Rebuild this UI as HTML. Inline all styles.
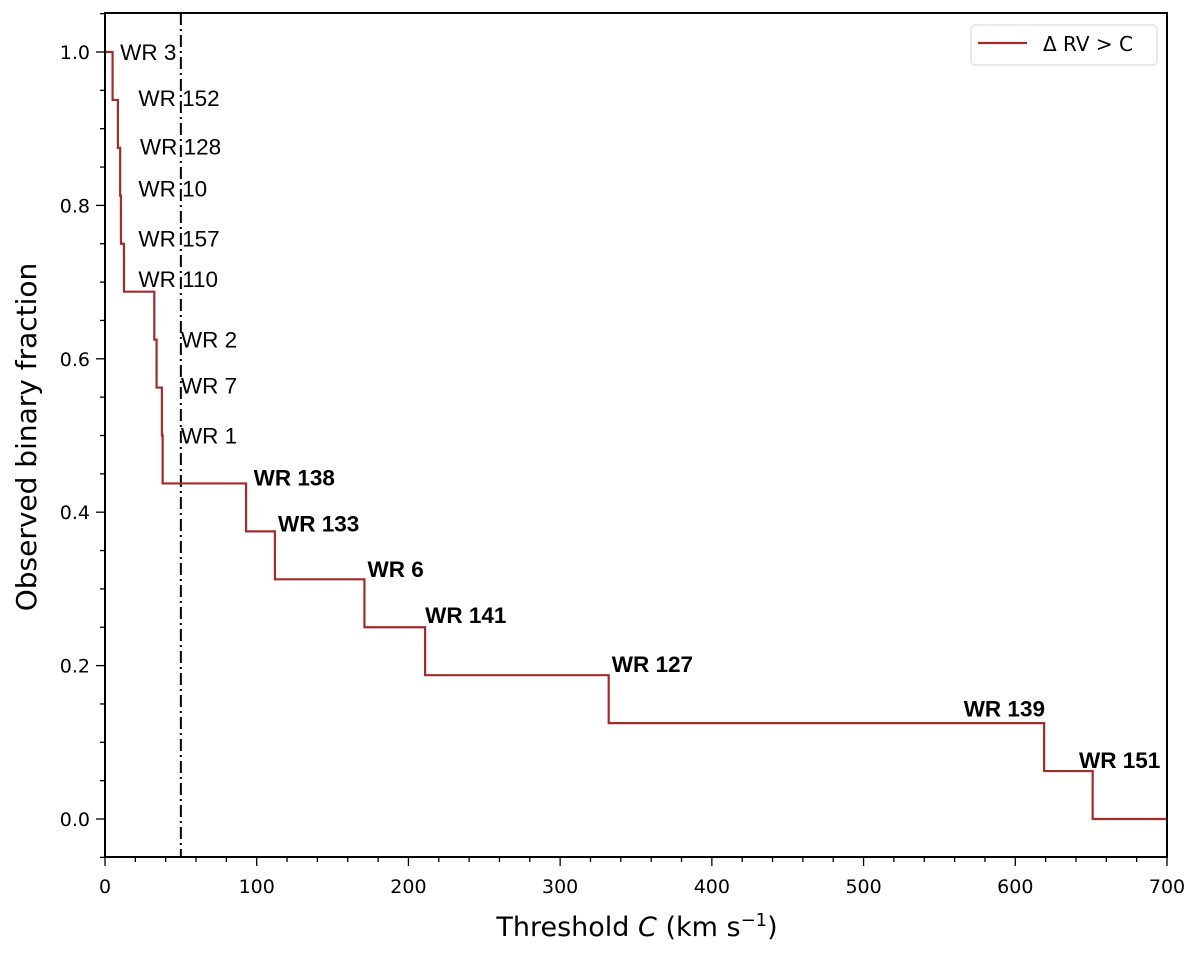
<!DOCTYPE html>
<html><head><meta charset="utf-8"><style>
body{margin:0;background:#fff;}
svg{display:block;font-family:"Liberation Sans","DejaVu Sans",sans-serif;}
.dv{font-family:"DejaVu Sans",sans-serif;}
</style></head><body>
<svg id="chart" width="1200" height="953"></svg>
<script>
const thresholds=[5,8.5,10,10.5,12.5,32.5,34,37.5,38,93,112,171,211,332,619,651];
const fractions=[1.0,0.9375,0.875,0.8125,0.75,0.6875,0.625,0.5625,0.5,0.4375,0.375,0.3125,0.25,0.1875,0.125,0.0625,0];
const xTicks=[0,100,200,300,400,500,600,700];
const yTicks=[0.0,0.2,0.4,0.6,0.8,1.0];
const labelNames=["WR 3","WR 152","WR 128","WR 10","WR 157","WR 110","WR 2","WR 7","WR 1","WR 138","WR 133","WR 6","WR 141","WR 127","WR 139","WR 151"];
const labelX=[10,22,23,22,22,22,50,50,50,98,114,173,211,334,566,642];
const labelY=[1.0,0.94,0.877,0.822,0.757,0.704,0.625,0.565,0.5,0.445,0.385,0.326,0.266,0.202,0.144,0.077];
const labelBold=[0,0,0,0,0,0,0,0,0,1,1,1,1,1,1,1];
const threshold=50;

const L=105,R=1167,T=13,B=857;
const X=v=>L+v*(R-L)/700;
const Y=v=>819-v*767;
const svg=document.getElementById('chart');
const NS='http://www.w3.org/2000/svg';
function mk(tag,attrs,parent){const e=document.createElementNS(NS,tag);for(const k in attrs)e.setAttribute(k,attrs[k]);(parent||svg).appendChild(e);return e;}

for(let v=0;v<=700;v+=20){const maj=v%100===0;const t=mk('line',{x1:X(v),x2:X(v),y1:B,y2:B+(maj?9:5),stroke:'#000','stroke-width':1.3});

}
for(let i=-1;i<=21;i++){const v=i*0.05;const maj=i%4===0;const t=mk('line',{x1:L,x2:L-(maj?9:5),y1:Y(v),y2:Y(v),stroke:'#000','stroke-width':1.3});

}
xTicks.forEach(v=>{const t=mk('text',{x:X(v),y:B+36,'font-size':19,'text-anchor':'middle','class':'dv'});t.textContent=v;

});
yTicks.forEach(v=>{const t=mk('text',{x:L-15,y:Y(v)+7,'font-size':19,'text-anchor':'end','class':'dv'});t.textContent=v.toFixed(1);

});

const th=mk('line',{x1:X(threshold),x2:X(threshold),y1:T,y2:B,stroke:'#000','stroke-width':2,'stroke-dasharray':'12,4,2,4'});



let d='M'+X(0)+','+Y(fractions[0]);
thresholds.forEach((t,i)=>{d+=' L'+X(t)+','+Y(fractions[i])+' L'+X(t)+','+Y(fractions[i+1]);});
d+=' L'+X(700)+','+Y(fractions[fractions.length-1]);
const st=mk('path',{d:d,fill:'none',stroke:'#a52a2a','stroke-width':2.2});



labelNames.forEach((n,i)=>{const t=mk('text',{x:X(labelX[i]),y:Y(labelY[i])+8,'font-size':22.5,'font-weight':labelBold[i]?'bold':'normal'});t.textContent=n;

});

const fr=mk('rect',{x:L,y:T,width:R-L,height:B-T,fill:'none',stroke:'#000','stroke-width':2});



const lg=mk('g',{});


mk('rect',{x:971,y:25,width:186,height:40,rx:4,fill:'#fff',stroke:'#ddd','stroke-width':1.2},lg);
mk('line',{x1:978,x2:1027,y1:43,y2:43,stroke:'#a52a2a','stroke-width':2.2},lg);
const lt=mk('text',{x:1043,y:51,'font-size':20,'class':'dv'},lg);lt.textContent='Δ RV > C';

const xt=mk('text',{x:637,y:936,'font-size':27,'text-anchor':'middle','class':'dv'});
xt.innerHTML='Threshold <tspan font-style="italic">C</tspan> (km s<tspan dy="-10" font-size="18">−1</tspan><tspan dy="10">)</tspan>';


const yt=mk('text',{x:36,y:437,'font-size':28,'text-anchor':'middle','class':'dv',transform:'rotate(-90 36 437)'});
yt.textContent='Observed binary fraction';


</script>
</body></html>
